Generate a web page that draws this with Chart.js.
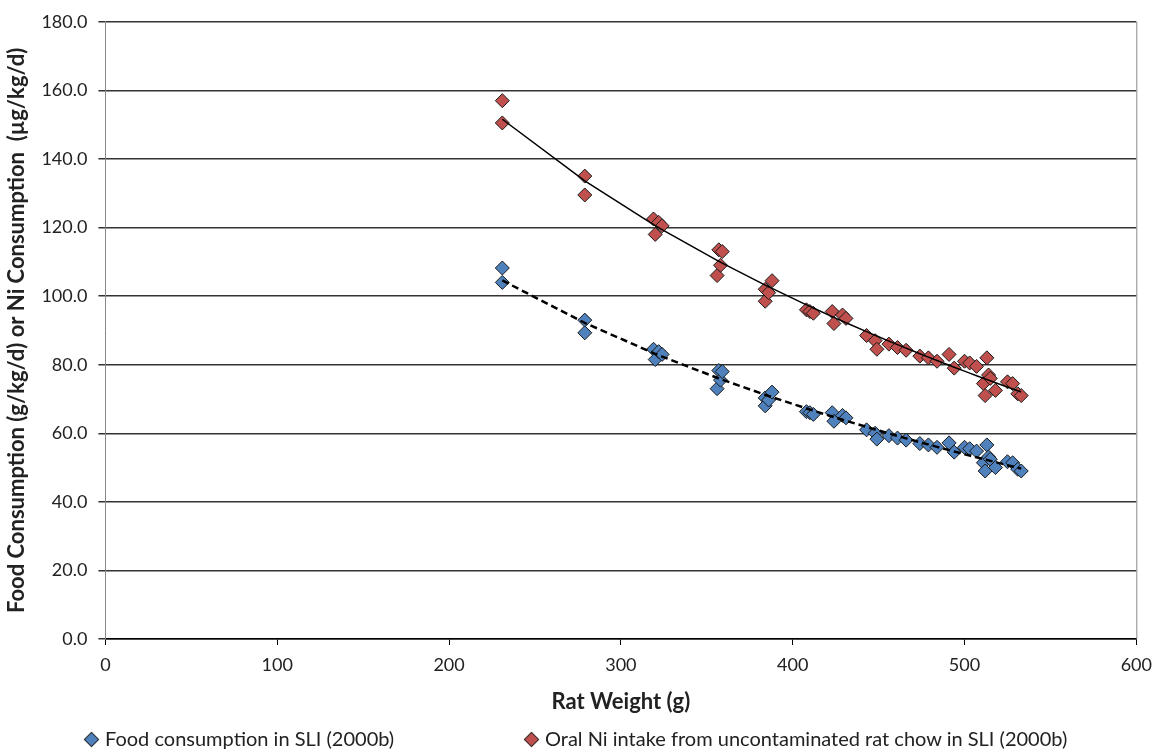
<!DOCTYPE html>
<html>
<head>
<meta charset="utf-8">
<script src="https://cdn.jsdelivr.net/npm/chart.js@4/dist/chart.umd.min.js"></script>
<style>
  body { margin: 0; background: #fff; overflow: hidden; }
  .wrap { position: relative; width: 1154px; height: 753px; overflow: hidden; }
  .legend { position: absolute; top: 725px; left: 0; width: 1154px; height: 26px; line-height: 26px;
    font-family: Lato, "Liberation Sans", sans-serif; font-size: 20px; color: #222; }
  .legend span.item { position: absolute; white-space: nowrap; }
  .legend i { display: inline-block; width: 9px; height: 9px; margin: 0 8px 3px 2px;
    transform: rotate(45deg); border: 1px solid #333; vertical-align: middle; }
</style>
</head>
<body>
<div class="wrap">
  <canvas id="ratChart" width="1161" height="753"></canvas>
  <div class="legend" id="legend"></div>
</div>
<script>
// Rat weight (g) for each measurement
const ratWeight = [231, 231, 279, 279, 319, 320, 322, 324, 356, 357, 358, 359,
  384, 384, 386, 388, 408, 410, 412, 423, 424, 429, 431, 443, 448, 449, 456, 461,
  466, 474, 479, 484, 491, 494, 500, 503, 507, 511, 512, 513, 514, 515, 518, 525,
  528, 531, 533];

// Food consumption (g/kg/d)
const foodValues = [108.2, 104.0, 93.0, 89.3, 84.5, 81.5, 83.8, 83.0, 73.0, 78.3, 75.5, 78.0,
  70.3, 68.0, 69.7, 72.0, 66.3, 66.0, 65.5, 66.0, 63.5, 65.2, 64.5, 61.0, 60.0, 58.3, 59.3, 58.6,
  58.0, 57.0, 56.6, 55.9, 57.2, 54.5, 55.9, 55.5, 54.8, 51.4, 49.0, 56.6, 53.1, 52.4, 50.0, 51.7,
  51.4, 49.5, 49.0];

// Oral Ni intake (ug/kg/d)
const niValues = [157.0, 150.5, 135.0, 129.5, 122.5, 118.0, 121.5, 120.5, 106.0, 113.5, 109.0, 113.0,
  102.0, 98.5, 101.0, 104.5, 96.0, 95.5, 95.0, 95.5, 92.0, 94.5, 93.5, 88.5, 87.0, 84.5, 86.0, 85.0,
  84.2, 82.5, 82.0, 81.0, 83.0, 79.0, 81.0, 80.5, 79.5, 74.5, 71.0, 82.0, 77.0, 76.0, 72.5, 75.0,
  74.5, 71.5, 71.0];

const seriesNames = ['Food consumption in SLI (2000b)',
  'Oral Ni intake from uncontaminated rat chow in SLI (2000b)'];
const seriesColors = ['#4F81BD', '#C0504D'];

// logarithmic trendline fitted to the points (like the Excel one)
function logTrend(xs, ys) {
  let n = xs.length, sx = 0, sy = 0, sxx = 0, sxy = 0;
  for (let i = 0; i < n; i++) {
    const lx = Math.log(xs[i]);
    sx += lx; sy += ys[i]; sxx += lx * lx; sxy += lx * ys[i];
  }
  const b = (n * sxy - sx * sy) / (n * sxx - sx * sx);
  const a = (sy - b * sx) / n;
  const xsSorted = [...new Set(xs)].sort((p, q) => p - q);
  return xsSorted.map(x => ({ x: x, y: a + b * Math.log(x) }));
}

const toPoints = (xs, ys) => xs.map((x, i) => ({ x: x, y: ys[i] }));

const fontFamily = 'Lato, "Liberation Sans", sans-serif';

// right edge of the plot area
const plotBorder = {
  id: 'plotBorder',
  afterDraw(chart) {
    const a = chart.chartArea, c = chart.ctx;
    c.save();
    c.strokeStyle = '#888';
    c.lineWidth = 1;
    c.beginPath();
    c.moveTo(a.right + 0.5, a.top);
    c.lineTo(a.right + 0.5, a.bottom);
    c.stroke();
    c.restore();
  }
};

// legend below the axis title, laid out like the original
const legendEl = document.getElementById('legend');
const legendLeft = [84, 524];
seriesNames.forEach((name, i) => {
  const s = document.createElement('span');
  s.className = 'item';
  s.style.left = legendLeft[i] + 'px';
  const mark = document.createElement('i');
  mark.style.background = seriesColors[i];
  s.appendChild(mark);
  s.appendChild(document.createTextNode(name));
  legendEl.appendChild(s);
});

const ctx = document.getElementById('ratChart').getContext('2d');
new Chart(ctx, {
  type: 'scatter',
  data: {
    datasets: [
      {
        label: seriesNames[0],
        data: toPoints(ratWeight, foodValues),
        pointStyle: 'rectRot',
        pointRadius: 7,
        backgroundColor: seriesColors[0],
        borderColor: '#1a1a1a',
        borderWidth: 1,
        order: 2
      },
      {
        label: seriesNames[1],
        data: toPoints(ratWeight, niValues),
        pointStyle: 'rectRot',
        pointRadius: 7,
        backgroundColor: seriesColors[1],
        borderColor: '#1a1a1a',
        borderWidth: 1,
        order: 3
      },
      {
        label: 'trendFood',
        type: 'line',
        data: logTrend(ratWeight, foodValues),
        borderColor: '#000',
        borderWidth: 2.5,
        borderDash: [7, 4],
        pointRadius: 0,
        fill: false,
        order: 1
      },
      {
        label: 'trendNi',
        type: 'line',
        data: logTrend(ratWeight, niValues),
        borderColor: '#000',
        borderWidth: 1.5,
        pointRadius: 0,
        fill: false,
        order: 1
      }
    ]
  },
  options: {
    responsive: false,
    animation: false,
    layout: { padding: { left: 4, right: 0, top: 20, bottom: 28 } },
    plugins: {
      tooltip: { enabled: false },
      legend: { display: false }
    },
    scales: {
      x: {
        type: 'linear',
        min: 0,
        max: 600,
        ticks: {
          stepSize: 100,
          color: '#222',
          padding: 9,
          font: { family: fontFamily, size: 18 }
        },
        grid: {
          drawOnChartArea: false,
          drawTicks: true,
          tickLength: 6,
          color: '#000'
        },
        border: { color: '#000', width: 1.5 },
        title: {
          display: true,
          text: 'Rat Weight (g)',
          color: '#222',
          font: { family: fontFamily, size: 22, weight: 'bold' },
          padding: { top: 4, bottom: 10 }
        }
      },
      y: {
        min: 0,
        max: 180,
        ticks: {
          stepSize: 20,
          color: '#222',
          padding: 11,
          font: { family: fontFamily, size: 18 },
          callback: v => v.toFixed(1)
        },
        grid: {
          color: '#333',
          lineWidth: 1.5,
          tickLength: 7
        },
        border: { color: '#888', width: 1 },
        title: {
          display: true,
          text: 'Food Consumption (g/kg/d) or Ni Consumption  (µg/kg/d)',
          color: '#222',
          font: { family: fontFamily, size: 22, weight: 'bold' },
          padding: { top: 0, bottom: 0 }
        }
      }
    }
  },
  plugins: [plotBorder]
});
</script>
</body>
</html>
